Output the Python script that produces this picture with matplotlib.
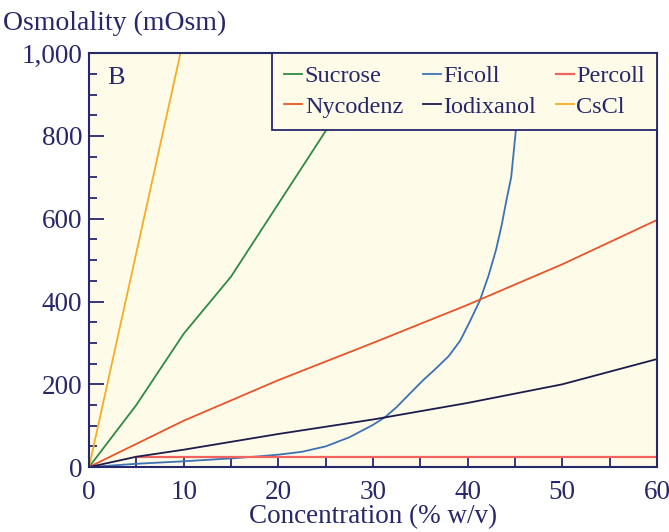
import matplotlib
matplotlib.use("Agg")
import matplotlib.pyplot as plt
from matplotlib.ticker import MultipleLocator, FuncFormatter

navy = "#27276b"

# data
conc_sucrose = [0, 5, 10, 15, 20, 25, 30]
osm_sucrose = [0, 150, 322, 460, 636, 812, 985]

conc_ficoll = [0, 5, 10, 15, 18, 20, 22.5, 25, 27.5, 30, 31.3, 32.5, 34,
               35.3, 36.5, 38, 39.2, 40.2, 41.3, 42.2, 43, 43.6, 44.1,
               44.6, 45.1]
osm_ficoll = [0, 8, 14, 21, 26, 30, 37, 50, 72, 102, 121, 145, 180,
              210, 235, 268, 305, 350, 403, 462, 525, 585, 645,
              700, 815]

conc_percoll = [5, 60]
osm_percoll = [25, 25]

conc_nycodenz = [0, 10, 20, 30, 40, 50, 60]
osm_nycodenz = [0, 112, 210, 300, 392, 490, 597]

conc_iodixanol = [0, 5, 10, 20, 30, 40, 50, 60]
osm_iodixanol = [0, 25, 42, 80, 115, 155, 200, 261]

conc_cscl = [0, 10]
osm_cscl = [0, 1035]

plt.rcParams["font.family"] = ["Liberation Serif", "DejaVu Serif"]

fig = plt.figure(figsize=(6.69, 5.32), dpi=100)
ax = fig.add_axes([0.133, 0.122, 0.849, 0.778])
ax.set_facecolor("#fefbe8")

lw = 1.3
ax.plot(conc_sucrose, osm_sucrose, color="#2e8b3f", lw=lw, label="Sucrose")
ax.plot(conc_ficoll, osm_ficoll, color="#3b72b4", lw=lw, label="Ficoll")
ax.plot(conc_percoll, osm_percoll, color="#f2625e", lw=lw + 0.3, label="Percoll")
ax.plot(conc_nycodenz, osm_nycodenz, color="#e8542a", lw=lw, label="Nycodenz")
ax.plot(conc_iodixanol, osm_iodixanol, color="#1c1c4c", lw=lw, label="Iodixanol")
ax.plot(conc_cscl, osm_cscl, color="#f3ae24", lw=lw, label="CsCl")

ax.set_xlim(0, 60)
ax.set_ylim(0, 1000)

ax.xaxis.set_major_locator(MultipleLocator(10))
ax.xaxis.set_minor_locator(MultipleLocator(5))
ax.yaxis.set_major_locator(MultipleLocator(200))
ax.yaxis.set_minor_locator(MultipleLocator(50))
ax.yaxis.set_major_formatter(FuncFormatter(lambda v, p: f"{int(v):,}"))

ax.tick_params(axis="both", which="both", direction="in", colors=navy,
               labelsize=19.5, width=1.3, pad=5)
ax.tick_params(axis="x", which="both", length=7, pad=9)
ax.tick_params(axis="y", which="major", length=11)
ax.tick_params(axis="y", which="minor", length=6)
ax.tick_params(top=False, right=False)

for s in ax.spines.values():
    s.set_color(navy)
    s.set_linewidth(1.5)

ax.set_xlabel("Concentration (% w/v)", fontsize=19.5, color=navy, labelpad=0)
fig.text(0.004, 0.956, "Osmolality (mOsm)", fontsize=20, color=navy,
         ha="left", va="center")
ax.text(0.032, 0.94, "B", transform=ax.transAxes, fontsize=19,
        color=navy, ha="left", va="center")

# legend is filled column by column, so reorder to get the rows right
h, l = ax.get_legend_handles_labels()
order = [0, 3, 1, 4, 2, 5]
leg = ax.legend([h[i] for i in order], [l[i] for i in order],
                loc="upper right", ncol=3, fontsize=17.5, frameon=True,
                borderaxespad=0, handlelength=0.75, handletextpad=0.1,
                columnspacing=0.8, fancybox=False, borderpad=0.5,
                labelspacing=0.35)
leg.get_frame().set_edgecolor(navy)
leg.get_frame().set_linewidth(1.3)
leg.get_frame().set_facecolor("#fefbe8")
leg.get_frame().set_alpha(1)
for t in leg.get_texts():
    t.set_color(navy)

fig.savefig("out.png", dpi=100)
